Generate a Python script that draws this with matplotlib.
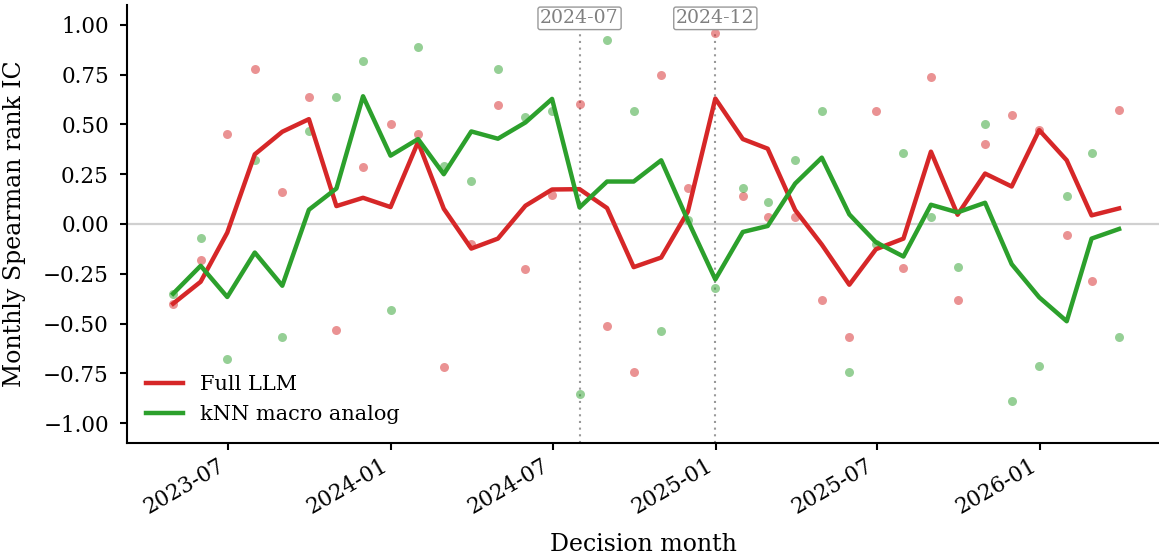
import matplotlib
matplotlib.use("Agg")
import matplotlib.pyplot as plt
import matplotlib.dates as mdates
import numpy as np
import pandas as pd

# ---- data ----
months = pd.date_range("2023-04-30", "2026-03-31", freq="ME")
full_llm = [-0.40, -0.18, 0.45, 0.78, 0.16, 0.64, -0.53, 0.285, 0.50, 0.45,
            -0.72, -0.10, 0.60, -0.225, 0.145, 0.605, -0.51, -0.745, 0.75, 0.18,
            0.96, 0.14, 0.035, 0.035, -0.38, -0.57, 0.57, -0.22, 0.74, -0.38,
            0.40, 0.545, 0.47, -0.055, -0.285, 0.575]
knn = [-0.35, -0.07, -0.68, 0.32, -0.57, 0.465, 0.64, 0.82, -0.43, 0.89,
       0.29, 0.215, 0.78, 0.535, 0.57, -0.855, 0.925, 0.57, -0.535, 0.02,
       -0.32, 0.18, 0.11, 0.32, 0.57, -0.745, -0.10, 0.355, 0.035, -0.215,
       0.50, -0.89, -0.715, 0.14, 0.355, -0.57]
series_names = ["Full LLM", "kNN macro analog"]
series_colors = ["#d62728", "#2ca02c"]
event_dates = ["2024-07-31", "2024-12-31"]
event_labels = ["2024-07", "2024-12"]

plt.rcParams["font.family"] = ["DejaVu Serif"]

fig = plt.figure(figsize=(11.59, 5.60), dpi=100)
ax = fig.add_axes([127 / 1159, 117 / 560, 1032 / 1159, 438 / 560])

df = pd.DataFrame({"Full LLM": full_llm, "kNN macro analog": knn}, index=months)

ax.axhline(0, color="#d0d0d0", lw=1.6, zorder=1)

for name, col in zip(series_names, series_colors):
    ax.scatter(df.index, df[name], s=42, color=col, alpha=0.5, lw=0, zorder=2)
    roll = df[name].rolling(3, min_periods=1).mean()
    ax.plot(df.index, roll, color=col, lw=3.2, label=name, zorder=3)

for d, lab in zip(event_dates, event_labels):
    dt = pd.Timestamp(d)
    ax.axvline(dt, color="#999999", lw=1.5, ls=(0, (1, 2.2)), zorder=1.5)
    ax.text(dt, 1.033, lab, ha="center", va="center", fontsize=13.6,
            color="#808080", zorder=5,
            bbox=dict(boxstyle="round,pad=0.12", fc="white", ec="#999999", lw=1.0))

ax.set_ylim(-1.1, 1.1)
ax.set_xlim(months[0] - pd.Timedelta(days=52), months[-1] + pd.Timedelta(days=45))
ax.set_yticks(np.arange(-1.0, 1.01, 0.25))
ax.yaxis.set_major_formatter(matplotlib.ticker.FuncFormatter(
    lambda v, p: f"{v:.2f}".replace("-", "\u2212")))
ax.xaxis.set_major_locator(mdates.MonthLocator(bymonth=[1, 7]))
ax.xaxis.set_major_formatter(mdates.DateFormatter("%Y-%m"))
for lbl in ax.get_xticklabels():
    lbl.set_rotation(30)
    lbl.set_ha("right")

ax.tick_params(axis="both", labelsize=15.5, width=1.5, length=5)
ax.tick_params(axis="y", pad=8)
for s in ["top", "right"]:
    ax.spines[s].set_visible(False)
for s in ["left", "bottom"]:
    ax.spines[s].set_linewidth(1.5)

ax.set_ylabel("Monthly Spearman rank IC", fontsize=17, labelpad=12.5)
ax.set_xlabel("Decision month", fontsize=17, labelpad=10.5)

ax.legend(loc="lower left", frameon=False, fontsize=15, handlelength=1.8,
          borderaxespad=0.5, labelspacing=0.55)

fig.savefig("out.png", dpi=100)
